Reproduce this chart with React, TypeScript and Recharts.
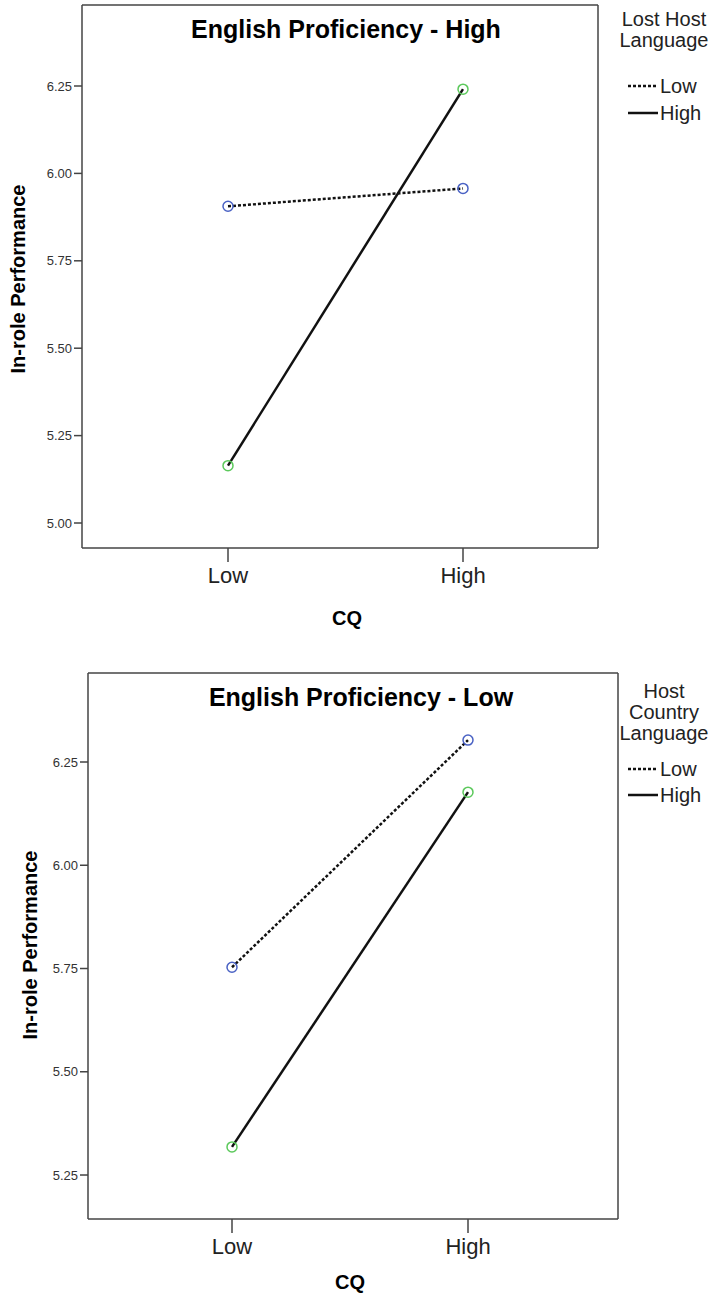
import React from 'react';
import { LineChart, Line, XAxis, YAxis } from 'recharts';

const categories = ['Low', 'High'];

// Chart 1: English Proficiency - High
const c1LowSeries = [5.906, 5.957];
const c1HighSeries = [5.164, 6.241];
const c1Ticks = [5.0, 5.25, 5.5, 5.75, 6.0, 6.25];
const c1Domain = [4.9285, 6.4817];

// Chart 2: English Proficiency - Low
const c2LowSeries = [5.753, 6.303];
const c2HighSeries = [5.318, 6.177];
const c2Ticks = [5.25, 5.5, 5.75, 6.0, 6.25];
const c2Domain = [5.1435, 6.4655];

const FONT = '"Liberation Sans", Arial, sans-serif';
const BLUE = '#4a62c4';
const GREEN = '#5cc95c';
const AXIS = '#444';

const build = (low: number[], high: number[]) =>
  categories.map((c, i) => ({ cq: c, low: low[i], high: high[i] }));

type PanelProps = {
  data: { cq: string; low: number; high: number }[];
  ticks: number[];
  domain: number[];
  width: number;
  height: number;
  margin: { top: number; right: number; bottom: number; left: number };
  padding: { left: number; right: number };
};

const Panel = ({ data, ticks, domain, width, height, margin, padding }: PanelProps) => (
  <LineChart width={width} height={height} data={data} margin={margin}>
    <XAxis
      xAxisId="b"
      dataKey="cq"
      scale="point"
      padding={padding}
      height={40}
      axisLine={{ stroke: AXIS, strokeWidth: 1.5 }}
      tickLine={{ stroke: AXIS, strokeWidth: 1.5 }}
      tickSize={14}
      tickMargin={5}
      tick={{ fontFamily: FONT, fontSize: 22, fill: '#222' }}
    />
    <XAxis
      xAxisId="t"
      dataKey="cq"
      scale="point"
      orientation="top"
      height={1}
      tick={false}
      tickLine={false}
      axisLine={{ stroke: AXIS, strokeWidth: 1.5 }}
    />
    <YAxis
      yAxisId="l"
      type="number"
      domain={domain}
      ticks={ticks}
      allowDataOverflow
      width={60}
      axisLine={{ stroke: AXIS, strokeWidth: 1.5 }}
      tickLine={{ stroke: AXIS, strokeWidth: 1.5 }}
      tickSize={8}
      tickMargin={2}
      tickFormatter={(v: number) => v.toFixed(2)}
      tick={{ fontFamily: FONT, fontSize: 13, fill: '#333' }}
    />
    <YAxis
      yAxisId="r"
      orientation="right"
      type="number"
      domain={domain}
      allowDataOverflow
      width={1}
      tick={false}
      tickLine={false}
      axisLine={{ stroke: AXIS, strokeWidth: 1.5 }}
    />
    <Line
      xAxisId="b"
      yAxisId="l"
      type="linear"
      dataKey="low"
      stroke="#111"
      strokeWidth={2.5}
      strokeDasharray="3 2"
      isAnimationActive={false}
      dot={{ r: 5, fill: 'none', stroke: BLUE, strokeWidth: 1.5, strokeDasharray: '' }}
    />
    <Line
      xAxisId="b"
      yAxisId="l"
      type="linear"
      dataKey="high"
      stroke="#111"
      strokeWidth={2.5}
      isAnimationActive={false}
      dot={{ r: 5, fill: 'none', stroke: GREEN, strokeWidth: 1.5 }}
    />
  </LineChart>
);

const LegendBlock = ({ x, titleLines, titleY, lowY, highY }: { x: number; titleLines: string[]; titleY: number; lowY: number; highY: number }) => (
  <g fontFamily={FONT} fill="#222">
    {titleLines.map((t, i) => (
      <text key={t} x={x} y={titleY + i * 21} fontSize={20} textAnchor="middle" dominantBaseline="central">
        {t}
      </text>
    ))}
    <line x1={628} x2={658} y1={lowY} y2={lowY} stroke="#111" strokeWidth={2.5} strokeDasharray="3 2" />
    <text x={660} y={lowY} fontSize={20} dominantBaseline="central">Low</text>
    <line x1={628} x2={658} y1={highY} y2={highY} stroke="#111" strokeWidth={2.5} />
    <text x={660} y={highY} fontSize={20} dominantBaseline="central">High</text>
  </g>
);

export default function App() {
  const d1 = build(c1LowSeries, c1HighSeries);
  const d2 = build(c2LowSeries, c2HighSeries);
  return (
    <div style={{ position: 'absolute', left: 0, top: 0, width: 711, height: 1296, background: '#fff' }}>
      <div style={{ position: 'absolute', left: 0, top: 0 }}>
        <Panel
          data={d1}
          ticks={c1Ticks}
          domain={c1Domain}
          width={711}
          height={640}
          margin={{ top: 4, right: 112, bottom: 52, left: 22 }}
          padding={{ left: 146, right: 135 }}
        />
      </div>
      <div style={{ position: 'absolute', left: 0, top: 640 }}>
        <Panel
          data={d2}
          ticks={c2Ticks}
          domain={c2Domain}
          width={711}
          height={656}
          margin={{ top: 32, right: 92, bottom: 37, left: 28 }}
          padding={{ left: 144, right: 150 }}
        />
      </div>
      <svg width={711} height={1296} style={{ position: 'absolute', left: 0, top: 0, pointerEvents: 'none' }}>
        <g fontFamily={FONT} fontWeight="bold" fill="#000">
          <text x={346} y={29} fontSize={25} textAnchor="middle" dominantBaseline="central">English Proficiency - High</text>
          <text x={347} y={618} fontSize={20} textAnchor="middle" dominantBaseline="central">CQ</text>
          <text x={18} y={279} fontSize={20} textAnchor="middle" dominantBaseline="central" transform="rotate(-90 18 279)">In-role Performance</text>
          <text x={361} y={697} fontSize={25} textAnchor="middle" dominantBaseline="central">English Proficiency - Low</text>
          <text x={350} y={1282} fontSize={20} textAnchor="middle" dominantBaseline="central">CQ</text>
          <text x={30} y={945} fontSize={20} textAnchor="middle" dominantBaseline="central" transform="rotate(-90 30 945)">In-role Performance</text>
        </g>
        <LegendBlock x={664} titleLines={['Lost Host', 'Language']} titleY={19} lowY={86} highY={113} />
        <LegendBlock x={664} titleLines={['Host', 'Country', 'Language']} titleY={691} lowY={769} highY={795} />
      </svg>
    </div>
  );
}
